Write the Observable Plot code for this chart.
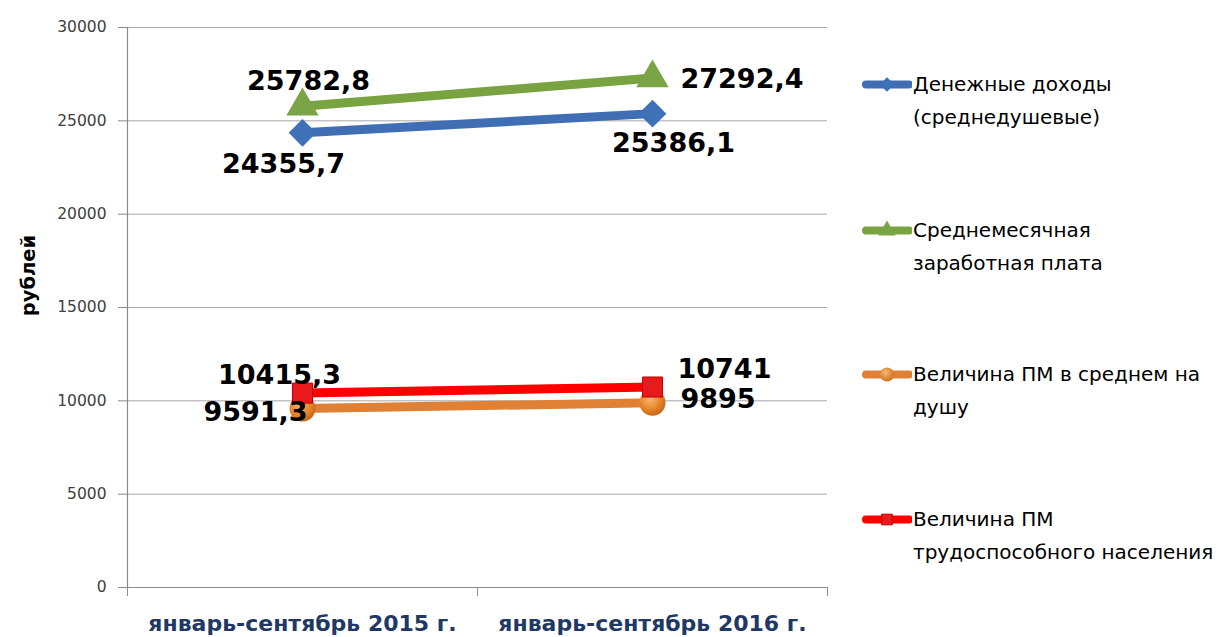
<!DOCTYPE html>
<html><head><meta charset="utf-8">
<script src="https://cdn.jsdelivr.net/npm/d3@7"></script>
<script src="https://cdn.jsdelivr.net/npm/@observablehq/plot@0.6"></script>
<style>
html,body{margin:0;padding:0;background:#fff;}
#chart{position:relative;width:1220px;height:637px;overflow:hidden;background:#fff;}
#chart > svg{position:absolute;left:0;top:0;}
.leg{position:absolute;left:862px;display:flex;align-items:flex-start;}
.leg svg{flex:none;}
.leg .txt{font-family:"DejaVu Sans",sans-serif;font-size:20px;line-height:33px;color:#000;white-space:pre;margin-left:1px;}
</style></head><body><div id="chart"></div>
<script>
// ---- data ----
const periods = ["январь-сентябрь 2015 г.", "январь-сентябрь 2016 г."];
const seriesNames = [
  "Денежные доходы\n(среднедушевые)",
  "Среднемесячная\nзаработная плата",
  "Величина ПМ в среднем на\nдушу",
  "Величина ПМ\nтрудоспособного населения"
];
const incomeValues = [24355.7, 25386.1];
const wageValues = [25782.8, 27292.4];
const pmPerCapitaValues = [9591.3, 9895];
const pmWorkingValues = [10415.3, 10741];
const yTicks = [0, 5000, 10000, 15000, 20000, 25000, 30000];
const yLabel = "рублей";

// ---- styles ----
const lineColors = ["#3f6eb5", "#78a340", "#e08034", "#ff0000"];
const markerFills = ["#3e71b8", "#7aa546", "url(#orangeGrad)", "#e81a1c"];
const symbols = ["diamond2", "triangle", "circle", "square"];
const symbolR = [12.5, 12, 13, 11.3];
// label placement per series, per period: [dx, dy, anchor]
const labelPlace = [
  [[-19, 31, "middle"], [21, 30, "middle"]],
  [[6, -25, "middle"], [28, 1, "start"]],
  [[-47, 4, "middle"], [28, -3, "start"]],
  [[-23, -18, "middle"], [25, -18, "start"]]
];

const allValues = [incomeValues, wageValues, pmPerCapitaValues, pmWorkingValues];
const rows = [];
allValues.forEach((vals, s) => vals.forEach((v, i) => rows.push({s, i, period: periods[i], x: i + 0.5, value: v, label: String(v).replace(".", ",")})));

const marks = [
  Plot.ruleY(yTicks.filter(d => d > 0), {stroke: "#a6a6a6", strokeWidth: 1}),
  Plot.ruleY([0], {stroke: "#8c8c8c", strokeWidth: 1.2}),
  Plot.ruleX([0], {y1: 0, y2: 30000, stroke: "#8c8c8c", strokeWidth: 1.2}),
  Plot.axisY({ticks: yTicks, tickSize: 9, tickPadding: 12, fontSize: 15.5, stroke: "#8c8c8c", fill: "#404040", label: null, tickFormat: d => String(d)}),
  Plot.axisX({ticks: [0, 1, 2], tickSize: 9, tickFormat: () => "", stroke: "#8c8c8c", label: null}),
  Plot.axisX({ticks: [0.5, 1.5], tickSize: 0, tickPadding: 28, tickFormat: d => periods[Math.round(d - 0.5)], fontSize: 22, fontWeight: "bold", fill: "#1f3864", label: null}),
  Plot.text([yLabel], {frameAnchor: "left", textAnchor: "middle", dx: -99, dy: -32, rotate: -90, fontSize: 19.5, fontWeight: "bold", fill: "#000"})
];
allValues.forEach((vals, s) => {
  const data = rows.filter(r => r.s === s);
  marks.push(Plot.line(data, {x: "x", y: "value", stroke: lineColors[s], strokeWidth: 9, strokeLinecap: "butt"}));
  marks.push(Plot.dot(data, {x: "x", y: "value", symbol: () => symbols[s], r: symbolR[s], fill: markerFills[s], stroke: s === 3 ? "#c00000" : "none", strokeWidth: 1}));
});
rows.forEach(r => {
  const [dx, dy, anchor] = labelPlace[r.s][r.i];
  marks.push(Plot.text([r], {x: "x", y: "value", text: "label", dx, dy, textAnchor: anchor, fontSize: 27, fontWeight: "bold", fill: "#000"}));
});

const chart = Plot.plot({
  width: 1220, height: 637,
  marginLeft: 127, marginRight: 393, marginTop: 27, marginBottom: 50,
  x: {domain: [0, 2], axis: null},
  y: {domain: [0, 30000], axis: null},
  style: {fontFamily: "DejaVu Sans", background: "#fff", overflow: "visible"},
  marks
});
// gradient for the orange ball marker
const defs = d3.select(chart).insert("defs", ":first-child");
const g = defs.append("radialGradient").attr("id", "orangeGrad").attr("cx", "40%").attr("cy", "35%").attr("r", "65%");
g.append("stop").attr("offset", "0%").attr("stop-color", "#f9b873");
g.append("stop").attr("offset", "60%").attr("stop-color", "#e8862c");
g.append("stop").attr("offset", "100%").attr("stop-color", "#c8691a");

const root = document.getElementById("chart");
root.appendChild(chart);

// ---- legend ----
const legendY = [84, 230, 374, 519];
seriesNames.forEach((name, s) => {
  const div = document.createElement("div");
  div.className = "leg";
  div.style.top = (legendY[s] - 16.5) + "px";
  const sw = d3.create("svg").attr("width", 50).attr("height", 33);
  const sd = sw.append("defs").append("radialGradient").attr("id", "legGrad" + s).attr("cx", "40%").attr("cy", "35%").attr("r", "65%");
  sd.append("stop").attr("offset", "0%").attr("stop-color", "#f9b873");
  sd.append("stop").attr("offset", "100%").attr("stop-color", "#d0701c");
  sw.append("line").attr("x1", 4).attr("x2", 47).attr("y1", 16.5).attr("y2", 16.5)
    .attr("stroke", lineColors[s]).attr("stroke-width", 8).attr("stroke-linecap", "round");
  const symType = {diamond2: d3.symbolDiamond2, triangle: d3.symbolTriangle, circle: d3.symbolCircle, square: d3.symbolSquare}[symbols[s]];
  const rr = [6.5, 6.5, 7, 6][s];
  sw.append("path").attr("transform", "translate(25,16.5)")
    .attr("d", d3.symbol(symType, rr * rr * Math.PI)())
    .attr("fill", s === 2 ? "url(#legGrad2)" : markerFills[s])
    .attr("stroke", s === 3 ? "#c00000" : "none");
  div.appendChild(sw.node());
  const t = document.createElement("div");
  t.className = "txt";
  t.textContent = name;
  div.appendChild(t);
  root.appendChild(div);
});
</script>
</body></html>
